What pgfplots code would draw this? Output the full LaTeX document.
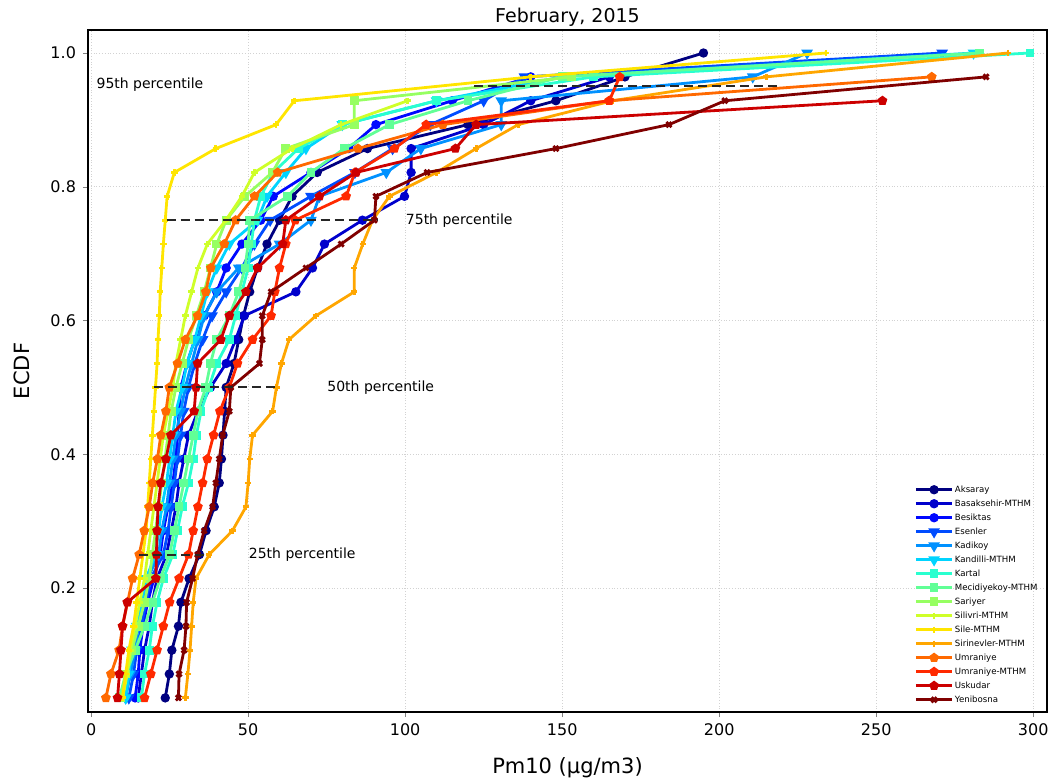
\documentclass[border=0pt]{standalone}
\usepackage{fontspec}
\setmainfont{DejaVu Sans}
\usepackage{pgfplots}
\usepackage{pgfplotstable}
\pgfplotsset{compat=1.18}
\usetikzlibrary{plotmarks}

% jet colours, one per station
\definecolor{c0}{rgb}{0,0,0.5}
\definecolor{c1}{rgb}{0,0,0.80}
\definecolor{c2}{rgb}{0,0.03,1}
\definecolor{c3}{rgb}{0,0.30,1}
\definecolor{c4}{rgb}{0,0.57,1}
\definecolor{c5}{rgb}{0,0.83,1}
\definecolor{c6}{rgb}{0.16,1,0.81}
\definecolor{c7}{rgb}{0.38,1,0.59}
\definecolor{c8}{rgb}{0.59,1,0.38}
\definecolor{c9}{rgb}{0.81,1,0.16}
\definecolor{c10}{rgb}{1,0.90,0}
\definecolor{c11}{rgb}{1,0.65,0}
\definecolor{c12}{rgb}{1,0.41,0}
\definecolor{c13}{rgb}{1,0.16,0}
\definecolor{c14}{rgb}{0.80,0,0}
\definecolor{c15}{rgb}{0.5,0,0}

% ECDF: x = Pm10 value of each station at level y = k/28
\pgfplotstableread{
y      A     Bk    Bs    E     Kd    Kn    Kt    M     S     Sv    Si    Sr    U     UM    Us    Y
0.0357 23.6  15.0  14.0  12.0  11.0  11.0  16.0  9.0   9.5   10.0  10.0  30.0  4.7   17.0  8.4   27.8
0.0714 24.9  16.0  15.0  13.5  12.5  12.0  17.0  11.0  11.0  11.5  11.0  30.8  6.3   19.0  9.0   28.0
0.1071 25.7  17.0  15.5  14.5  14.0  13.0  18.5  14.0  13.0  12.5  12.0  31.5  8.9   21.0  9.5   29.6
0.1429 27.8  18.5  16.5  16.0  15.0  14.5  19.5  17.0  15.0  14.0  13.5  32.0  10.0  23.0  10.0  30.2
0.1786 28.6  19.5  18.0  17.5  16.5  16.0  21.0  19.5  17.0  15.5  14.5  32.5  11.6  25.0  11.5  30.4
0.2143 31.2  21.0  20.0  19.0  18.0  17.5  23.0  22.0  18.5  17.0  15.5  33.4  13.2  28.0  20.6  32.3
0.2500 34.5  24.0  22.0  23.0  21.5  20.5  26.0  25.0  19.5  18.0  16.5  37.6  15.3  31.0  20.8  33.9
0.2857 36.6  25.5  23.0  24.5  22.5  21.5  27.5  26.5  20.5  19.0  17.5  45.0  16.9  32.5  21.0  36.0
0.3214 39.2  27.0  24.5  25.5  24.0  22.5  29.0  28.0  21.5  20.0  18.0  49.3  18.5  34.0  21.3  38.7
0.3571 40.8  28.0  26.0  26.5  25.0  24.0  31.0  29.5  22.5  21.0  18.5  50.0  19.6  35.5  22.2  39.7
0.3929 41.5  29.5  27.0  27.5  26.0  25.0  32.5  31.0  23.5  22.0  19.0  50.5  21.1  37.0  23.8  40.8
0.4286 42.0  31.0  27.5  28.5  27.0  26.0  33.5  32.5  24.5  23.0  19.5  51.4  22.2  39.0  25.4  41.9
0.4643 42.5  34.0  28.0  29.5  28.5  27.0  35.0  34.0  25.5  24.5  20.0  57.8  23.8  41.0  32.8  44.0
0.5000 43.0  38.0  28.6  31.0  30.0  29.0  37.5  36.5  27.0  26.0  20.5  59.0  24.9  44.0  33.4  44.5
0.5357 45.5  43.0  30.5  33.0  32.0  30.5  40.0  38.0  29.0  27.0  21.0  60.6  27.5  46.6  33.9  53.6
0.5714 47.0  46.0  33.0  35.5  34.0  33.0  44.0  40.0  31.0  28.5  21.3  63.0  30.0  51.4  41.3  54.5
0.6071 48.5  48.8  36.0  38.5  36.0  35.0  46.0  44.0  33.5  30.0  21.7  71.6  33.9  57.3  44.0  54.5
0.6429 50.5  65.2  40.0  43.0  40.0  37.0  48.0  47.0  36.0  32.0  22.0  83.8  36.5  58.5  49.3  57.3
0.6786 53.0  70.5  43.0  48.0  47.0  40.0  50.0  49.0  38.0  34.0  22.5  83.8  38.1  60.0  53.0  68.4
0.7143 56.0  74.3  48.0  52.0  60.0  44.0  51.0  50.0  40.0  37.0  23.0  86.5  42.4  62.0  61.0  79.6
0.7500 60.0  86.4  54.0  57.0  70.0  53.0  52.0  50.5  43.0  42.9  23.6  89.6  46.0  65.0  62.0  90.2
0.7857 64.0  99.8  58.0  70.0  72.7  56.0  54.0  62.6  49.0  48.0  24.2  95.0  52.0  81.2  72.7  90.7
0.8214 72.0  101.9 70.0  84.0  94.0  62.0  58.0  70.0  57.7  52.0  26.5  110.0 59.4  84.0  84.4  107.0
0.8571 88.0  101.9 82.0  96.0  105.0 68.4  66.0  80.6  62.0  64.0  39.7  122.6 85.0  96.6  116.0 148.0
0.8929 120.0 125.0 90.7  108.0 130.6 80.0  80.0  95.0  83.8  79.6  58.9  136.0 112.0 106.7 122.6 184.0
0.9286 148.0 140.0 115.0 125.0 130.6 110.0 110.0 120.0 83.8  100.8 64.7  166.0 165.0 165.0 252.0 201.8
0.9643 170.0 165.0 140.0 138.0 210.7 150.0 160.0 150.0 153.0 nan   140.0 215.0 267.7 168.3 nan   285.0
1.0000 195.0 nan   nan   271.0 228.0 281.0 299.0 283.0 nan   nan   234.0 292.0 nan   nan   nan   nan
}\ecdf

% ends of the percentile bars
\pgfplotstableread{
x     p25   p50   p75   p95
15.3  0.25  nan   nan   nan
37.0  0.25  nan   nan   nan
20.0  nan   0.50  nan   nan
60.0  nan   0.50  nan   nan
24.0  nan   nan   0.75  nan
91.0  nan   nan   0.75  nan
122.0 nan   nan   nan   0.95
219.0 nan   nan   nan   0.95
}\pct

\begin{document}
\begin{tikzpicture}
\useasboundingbox (-44pt,-35.5pt) rectangle (482.5pt,356pt);
\begin{axis}[
    at={(0,0)}, anchor=south west,
    scale only axis,
    width=479.5pt, height=341pt,
    xmin=-1, xmax=304.4,
    ymin=0.0146, ymax=1.0344,
    clip mode=individual,
    xtick={0,50,...,300},
    ytick={0.2,0.4,0.6,0.8,1.0},
    yticklabel style={/pgf/number format/.cd, fixed, fixed zerofill, precision=1},
    /pgf/number format/assume math mode=true,
    ticklabel style={font=\fontsize{8}{9}\selectfont},
    tick align=outside, major tick length=2.5pt,
    xtick pos=bottom, ytick pos=left,
    grid=major,
    major grid style={densely dotted, gray!35, line width=0.5pt},
    axis line style={line width=0.6pt},
    xlabel={Pm10 (μg/m3)},
    xlabel style={font=\fontsize{10.5}{12}\selectfont, at={(axis description cs:0.5,-0.082)}, anchor=center},
    ylabel={ECDF},
    ylabel style={font=\fontsize{10.5}{12}\selectfont, at={(axis description cs:-0.069,0.5)}, anchor=center},
    every axis plot/.append style={line width=1.4pt},
    legend style={at={(0.998,0.003)}, anchor=south east, draw=none, fill=none,
        font=\fontsize{4.3}{5}\selectfont, row sep=1.2pt,
        nodes={inner sep=0.6pt, text height=3.6pt, text depth=1pt}},
    legend cell align=left,
    legend image code/.code={\draw[mark repeat=2, mark phase=2] plot coordinates {(0cm,0cm) (0.32cm,0cm) (0.64cm,0cm)};},
]
\addplot[c0, mark=*, mark size=1.6pt] table[x=A, y=y] {\ecdf};
\addplot[c1, mark=*, mark size=1.6pt] table[x=Bk, y=y] {\ecdf};
\addplot[c2, mark=*, mark size=1.6pt] table[x=Bs, y=y] {\ecdf};
\addplot[c3, mark=triangle*, mark size=2pt, mark options={rotate=180}] table[x=E, y=y] {\ecdf};
\addplot[c4, mark=triangle*, mark size=2pt, mark options={rotate=180}] table[x=Kd, y=y] {\ecdf};
\addplot[c5, mark=triangle*, mark size=2pt, mark options={rotate=180}] table[x=Kn, y=y] {\ecdf};
\addplot[c6, mark=square*, mark size=1.5pt] table[x=Kt, y=y] {\ecdf};
\addplot[c7, mark=square*, mark size=1.5pt] table[x=M, y=y] {\ecdf};
\addplot[c8, mark=square*, mark size=1.5pt] table[x=S, y=y] {\ecdf};
\addplot[c9, mark=+, mark size=1.6pt] table[x=Sv, y=y] {\ecdf};
\addplot[c10, mark=+, mark size=1.6pt] table[x=Si, y=y] {\ecdf};
\addplot[c11, mark=+, mark size=1.6pt] table[x=Sr, y=y] {\ecdf};
\addplot[c12, mark=pentagon*, mark size=1.7pt] table[x=U, y=y] {\ecdf};
\addplot[c13, mark=pentagon*, mark size=1.7pt] table[x=UM, y=y] {\ecdf};
\addplot[c14, mark=pentagon*, mark size=1.7pt] table[x=Us, y=y] {\ecdf};
\addplot[c15, mark=x, mark size=1.8pt] table[x=Y, y=y] {\ecdf};
\legend{Aksaray, Basaksehir-MTHM, Besiktas, Esenler, Kadikoy, Kandilli-MTHM, Kartal,
    Mecidiyekoy-MTHM, Sariyer, Silivri-MTHM, Sile-MTHM, Sirinevler-MTHM, Umraniye,
    Umraniye-MTHM, Uskudar, Yenibosna}

\addplot[forget plot, black!85, dash pattern=on 4.5pt off 2.5pt, line width=1pt] table[x=x, y=p25] {\pct};
\addplot[forget plot, black!85, dash pattern=on 4.5pt off 2.5pt, line width=1pt] table[x=x, y=p50] {\pct};
\addplot[forget plot, black!85, dash pattern=on 4.5pt off 2.5pt, line width=1pt] table[x=x, y=p75] {\pct};
\addplot[forget plot, black!85, dash pattern=on 4.5pt off 2.5pt, line width=1pt] table[x=x, y=p95] {\pct};

\node[anchor=west, font=\fontsize{7}{8}\selectfont] at (axis cs:-0.5,0.952) {95th percentile};
\node[anchor=west, font=\fontsize{7}{8}\selectfont] at (axis cs:98,0.75) {75th percentile};
\node[anchor=west, font=\fontsize{7}{8}\selectfont] at (axis cs:73,0.50) {50th percentile};
\node[anchor=west, font=\fontsize{7}{8}\selectfont] at (axis cs:48,0.25) {25th percentile};
\node[font=\fontsize{9.5}{11}\selectfont] at (rel axis cs:0.5,1.019) {February, 2015};
\end{axis}
\end{tikzpicture}
\end{document}
